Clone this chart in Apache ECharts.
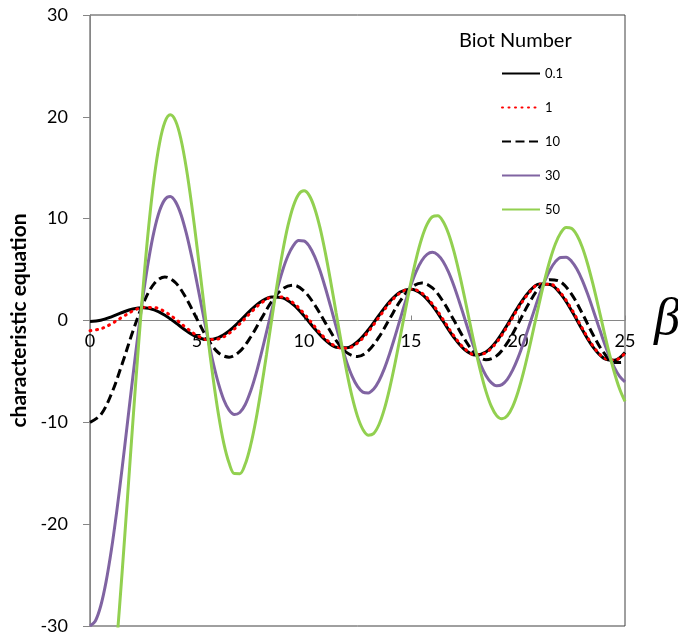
<!DOCTYPE html>
<html>
<head>
<meta charset="utf-8">
<script src="https://cdn.jsdelivr.net/npm/echarts@6/dist/echarts.min.js"></script>
<style>
html,body{margin:0;padding:0;background:#fff;}
#chart{width:678px;height:639px;}
</style>
</head>
<body>
<div id="chart"></div>
<script>
// beta sampled every 0.5 (Bi = 0.1, 1, 10) and every 0.25 (Bi = 30, 50)
const betaHalf = [0,0.5,1,1.5,2,2.5,3,3.5,4,4.5,5,5.5,6,6.5,7,7.5,8,8.5,9,9.5,10,10.5,11,11.5,12,12.5,13,13.5,14,14.5,15,15.5,16,16.5,17,17.5,18,18.5,19,19.5,20,20.5,21,21.5,22,22.5,23,23.5,24,24.5,25];
const betaQuarter = [0,0.25,0.5,0.75,1,1.25,1.5,1.75,2,2.25,2.5,2.75,3,3.25,3.5,3.75,4,4.25,4.5,4.75,5,5.25,5.5,5.75,6,6.25,6.5,6.75,7,7.25,7.5,7.75,8,8.25,8.5,8.75,9,9.25,9.5,9.75,10,10.25,10.5,10.75,11,11.25,11.5,11.75,12,12.25,12.5,12.75,13,13.25,13.5,13.75,14,14.25,14.5,14.75,15,15.25,15.5,15.75,16,16.25,16.5,16.75,17,17.25,17.5,17.75,18,18.25,18.5,18.75,19,19.25,19.5,19.75,20,20.25,20.5,20.75,21,21.25,21.5,21.75,22,22.25,22.5,22.75,23,23.25,23.5,23.75,24,24.25,24.5,24.75,25];
const seriesNames = ['0.1','1','10','30','50'];
const bi01 = [-0.10,0.027,0.364,0.786,1.131,1.248,1.043,0.519,-0.224,-1.008,-1.620,-1.877,-1.675,-1.026,-0.063,0.987,1.860,2.317,2.217,1.552,0.460,-0.805,-1.928,-2.620,-2.686,-2.084,-0.935,0.492,1.850,2.796,3.078,2.603,1.464,-0.076,-1.642,-2.846,-3.381,-3.088,-2.023,-0.426,1.319,2.781,3.589,3.527,2.586,0.988,-0.892,-2.594,-3.693,-3.898,-3.142];
const bi1 = [-1.000,-0.817,-0.325,0.325,0.930,1.291,1.277,0.861,0.133,-0.720,-1.460,-1.871,-1.811,-1.260,-0.333,0.748,1.705,2.280,2.298,1.726,0.681,-0.592,-1.774,-2.559,-2.729,-2.216,-1.121,0.298,1.697,2.717,3.091,2.701,1.621,0.101,-1.489,-2.753,-3.369,-3.158,-2.155,-0.587,1.169,2.677,3.557,3.571,2.695,1.134,-0.746,-2.482,-3.642,-3.919,-3.229];
const bi10 = [-10.000,-9.264,-7.212,-4.281,-1.086,1.727,3.618,4.282,3.707,2.165,0.138,-1.810,-3.166,-3.601,-3.034,-1.649,0.160,1.902,3.111,3.471,2.894,1.538,-0.233,-1.950,-3.158,-3.538,-2.983,-1.637,0.157,1.929,3.219,3.684,3.195,1.868,0.040,-1.823,-3.248,-3.852,-3.475,-2.197,-0.334,1.641,3.227,4.011,3.782,2.588,0.716,-1.367,-3.137,-4.133,-4.097];
const bi30 = [-30.000,-29.502,-28.034,-25.665,-22.516,-18.739,-14.517,-10.056,-5.564,-1.249,2.695,6.095,8.820,10.767,11.884,12.167,11.649,10.415,8.575,6.280,3.690,1.000,-1.674,-4.103,-6.178,-7.778,-8.803,-9.236,-9.036,-8.275,-6.975,-5.284,-3.274,-1.123,1.064,3.114,4.917,6.358,7.349,7.846,7.812,7.280,6.270,4.883,3.191,1.330,-0.596,-2.446,-4.112,-5.484,-6.476,-7.033,-7.121,-6.749,-5.937,-4.751,-3.265,-1.588,0.179,1.911,3.503,4.850,5.868,6.496,6.693,6.455,5.796,4.768,3.438,1.893,0.243,-1.425,-2.980,-4.335,-5.396,-6.102,-6.409,-6.294,-5.775,-4.880,-3.674,-2.238,-0.661,0.948,2.495,3.871,4.989,5.783,6.198,6.210,5.820,5.054,3.964,2.620,1.111,-0.463,-2.015,-3.420,-4.607,-5.492,-6.025];
const bi50 = [-50.000,-49.191,-46.804,-42.950,-37.820,-31.657,-24.753,-17.436,-10.042,-2.904,3.663,9.378,14.022,17.421,19.486,20.195,19.591,17.799,14.985,11.382,7.242,2.869,-1.538,-5.623,-9.190,-12.046,-14.005,-15.034,-15.038,-14.123,-12.301,-9.794,-6.708,-3.312,0.226,3.632,6.723,9.308,11.227,12.395,12.730,12.262,11.002,9.087,6.615,3.786,0.758,-2.252,-5.066,-7.506,-9.414,-10.691,-11.259,-11.106,-10.237,-8.733,-6.687,-4.251,-1.571,1.164,3.787,6.132,8.052,9.434,10.191,10.290,9.724,8.547,6.836,4.707,2.309,-0.229,-2.712,-5.000,-6.940,-8.417,-9.343,-9.657,-9.353,-8.450,-7.014,-5.147,-2.963,-0.615,1.763,4.004,5.967,7.538,8.614,9.125,9.052,8.398,7.212,5.574,3.589,1.394,-0.893,-3.088,-5.081,-6.735,-7.953];
const xTicks = [0,5,10,15,20,25];
const yTicks = [-30,-20,-10,0,10,20,30];

const seriesX = [betaHalf, betaHalf, betaHalf, betaQuarter, betaQuarter];
const seriesY = [bi01, bi1, bi10, bi30, bi50];
const styles = [
  {color:'#000000', width:3, type:'solid'},
  {color:'#ff0000', width:3, type:[1,5.5], cap:'round'},
  {color:'#000000', width:3, type:[9,4.5]},
  {color:'#8064A2', width:3, type:'solid'},
  {color:'#92D050', width:3, type:'solid'}
];
const FONT = 'Lato, "Open Sans", sans-serif';

const chart = echarts.init(document.getElementById('chart'), null, {renderer:'canvas'});
chart.setOption({
  animation:false,
  backgroundColor:'#ffffff',
  title:{
    text:'Biot Number', left:459, top:31, padding:0,
    textStyle:{fontFamily:FONT, fontSize:20, fontWeight:'normal', color:'#000'}
  },
  legend:{
    data:seriesNames, orient:'vertical', left:501, top:67,
    itemWidth:38, itemHeight:12, itemGap:21, padding:0,
    itemStyle:{opacity:0},
    textStyle:{fontFamily:FONT, fontSize:13, color:'#000'}
  },
  grid:{left:90, right:53, top:15, bottom:13, containLabel:false, outerBoundsMode:'none',
        show:true, borderColor:'#404040', borderWidth:1, backgroundColor:'transparent'},
  xAxis:{
    type:'value', min:xTicks[0], max:xTicks[xTicks.length-1], interval:5,
    position:'bottom', offset:-305.5,
    name:'β', nameLocation:'end', nameGap:29,
    nameTextStyle:{fontFamily:'"Liberation Serif", serif', fontStyle:'italic', fontSize:52, color:'#000', verticalAlign:'middle', padding:[8,0,0,0]},
    axisLine:{onZero:false, lineStyle:{color:'#868686', width:1}},
    axisTick:{show:true, inside:true, length:5, lineStyle:{color:'#868686'}},
    axisLabel:{fontFamily:FONT, fontSize:18, color:'#000', margin:12},
    splitLine:{show:false}
  },
  yAxis:{
    type:'value', min:yTicks[0], max:yTicks[yTicks.length-1], interval:10,
    name:'characteristic equation', nameLocation:'middle', nameGap:56, nameRotate:90,
    nameTextStyle:{fontFamily:FONT, fontSize:21, fontWeight:'bold', color:'#000'},
    axisLine:{show:true, onZero:false, lineStyle:{color:'#868686', width:1}},
    axisTick:{show:true, inside:false, length:7, lineStyle:{color:'#868686'}},
    axisLabel:{fontFamily:FONT, fontSize:18, color:'#000', margin:22},
    splitLine:{show:false}
  },
  series: seriesNames.map((n,i)=>({
    name:n, type:'line', data:seriesX[i].map((b,j)=>[b, seriesY[i][j]]),
    smooth:0.35, symbol:'none', showSymbol:false, clip:true,
    lineStyle:{color:styles[i].color, width:styles[i].width, type:styles[i].type, cap:styles[i].cap||'butt'},
    itemStyle:{color:styles[i].color},
    z:2+i
  }))
});
</script>
</body>
</html>
